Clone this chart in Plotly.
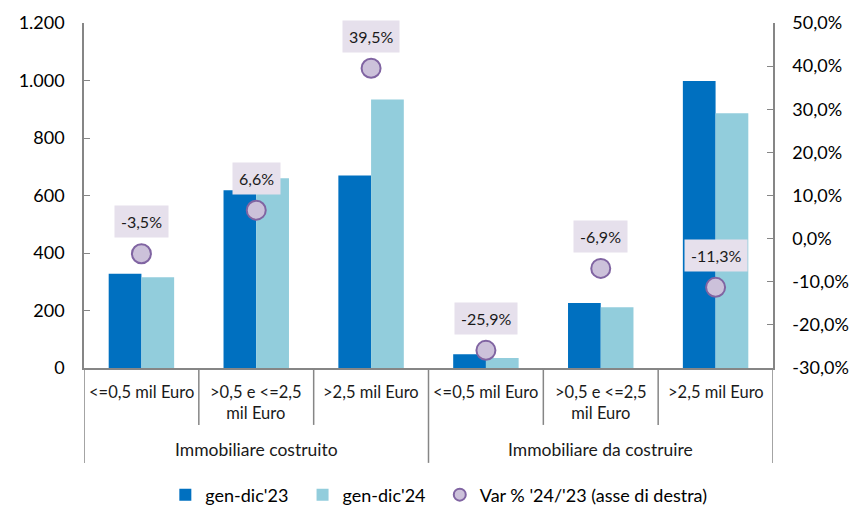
import plotly.graph_objects as go

groups = ["Immobiliare costruito", "Immobiliare da costruire"]
categories = ["<=0,5 mil Euro", ">0,5 e <=2,5<br>mil Euro", ">2,5 mil Euro",
              "<=0,5 mil Euro", ">0,5 e <=2,5<br>mil Euro", ">2,5 mil Euro"]
vals_23 = [328, 618, 670, 48, 226, 998]
vals_24 = [316, 660, 934, 35, 211, 886]
var_pct = [-3.5, 6.6, 39.5, -25.9, -6.9, -11.3]
right_ticks = [-30, -20, -10, 0, 10, 20, 30, 40, 50]

DARK = "#0070C0"
LIGHT = "#92CDDC"
FONT = "Lato"
AX = "#868686"
TXT = "#1a1a1a"
NB = "\u00a0"

x = list(range(len(categories)))

def fmt(v):
    return ("%.1f%%" % v).replace(".", ",")

fig = go.Figure()
fig.add_trace(go.Bar(x=x, y=vals_23, name="gen-dic'23" + NB * 2, marker=dict(color=DARK, line_width=0)))
fig.add_trace(go.Bar(x=x, y=vals_24, name="gen-dic'24" + NB * 2, marker=dict(color=LIGHT, line_width=0)))
fig.add_trace(go.Scatter(x=x, y=var_pct, yaxis="y2", mode="markers",
                         name="Var % '24/'23 (asse di destra)",
                         marker=dict(size=19, color="#CCC1DA", line=dict(color="#8064A2", width=2))))

annotations = []
for xi, v in zip(x, var_pct):
    annotations.append(dict(x=xi, y=v, xref="x", yref="y2", text=fmt(v),
                            showarrow=False, yshift=32, bgcolor="#E6E0EC", borderpad=6,
                            font=dict(family=FONT, size=16, color=TXT)))
# category labels
for xi, c in zip(x, categories):
    annotations.append(dict(x=xi, y=-0.036, xref="x", yref="paper", text=c, showarrow=False,
                            yanchor="top", font=dict(family=FONT, size=16.5, color=TXT)))
for gi, g in enumerate(groups):
    annotations.append(dict(x=gi * 3 + 1, y=-0.236, xref="x", yref="paper", text=g, showarrow=False,
                            yanchor="middle", font=dict(family=FONT, size=17.5, color=TXT)))

shapes = []
for b in [-0.5, 0.5, 1.5, 2.5, 3.5, 4.5, 5.5]:
    outer = b in (-0.5, 2.5, 5.5)
    shapes.append(dict(type="line", xref="x", yref="paper", x0=b, x1=b, y0=0,
                       y1=-0.275 if outer else -0.165, line=dict(color=AX, width=1.5)))

# page body adds an 8px offset: size and margins compensate for it
fig.update_layout(
    width=849, height=499,
    margin=dict(l=76, r=84, t=15, b=139, autoexpand=False),
    paper_bgcolor="white", plot_bgcolor="white",
    separators=",.",
    barmode="group", bargap=0.43, bargroupgap=0,
    font=dict(family=FONT, size=16, color="#000000"),
    xaxis=dict(range=[-0.5, 5.5], showticklabels=False, ticks="", showgrid=False, automargin=False,
               showline=True, linecolor=AX, linewidth=1.5, zeroline=False),
    yaxis=dict(range=[0, 1200], dtick=200, tickformat=",.0f", showgrid=False, zeroline=False,
               automargin=False,
               showline=True, linecolor=AX, linewidth=1.5, ticks="inside", ticklen=6,
               tickcolor=AX, ticklabelstandoff=14, tickfont=dict(size=18)),
    yaxis2=dict(range=[-30, 50], tickmode="array", tickvals=right_ticks,
                ticktext=[fmt(t) for t in right_ticks], overlaying="y", side="right",
                automargin=False,
                showgrid=False, zeroline=False, showline=True, linecolor=AX, linewidth=1.5,
                ticks="inside", ticklen=6, tickcolor=AX, ticklabelstandoff=14,
                tickfont=dict(size=18)),
    legend=dict(orientation="h", x=0.515, xanchor="center", y=-0.368, yanchor="middle",
                font=dict(size=18), itemwidth=30, itemsizing="constant", traceorder="normal"),
    showlegend=True,
    annotations=annotations, shapes=shapes,
)

fig.write_html("out.html")
